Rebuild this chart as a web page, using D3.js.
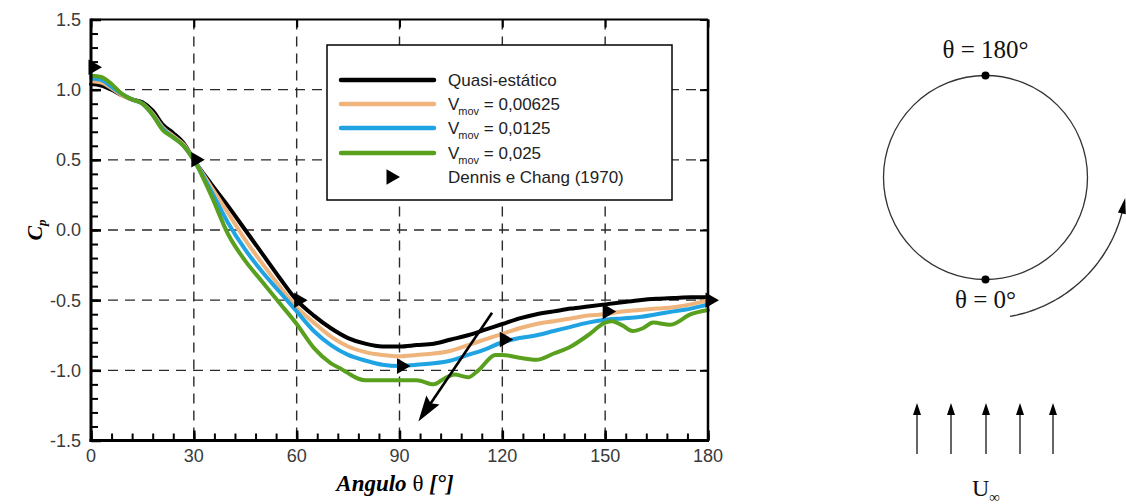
<!DOCTYPE html>
<html>
<head>
<meta charset="utf-8">
<script src="https://cdn.jsdelivr.net/npm/d3@7/dist/d3.min.js"></script>
<style>
  body { margin: 0; background: #fff; }
  svg { display: block; }
</style>
</head>
<body>
<svg id="chart" width="1126" height="504"></svg>
<script>
// Pressure coefficient around the cylinder, angle in degrees
const thetaSmooth = [0, 3, 6, 9, 12, 15, 18, 21, 24, 27, 30, 35, 40, 45, 50, 55, 60, 65, 70, 75, 80, 85, 90, 95, 100, 105, 110, 115, 120, 125, 130, 135, 140, 145, 150, 155, 160, 165, 170, 175, 180];
const cpQuasi  = [1.04, 1.03, 1.00, 0.96, 0.93, 0.91, 0.85, 0.75, 0.69, 0.62, 0.50, 0.33, 0.17, 0.00, -0.17, -0.34, -0.50, -0.61, -0.70, -0.77, -0.81, -0.83, -0.83, -0.82, -0.81, -0.78, -0.75, -0.71, -0.67, -0.63, -0.60, -0.58, -0.56, -0.545, -0.53, -0.515, -0.50, -0.49, -0.485, -0.48, -0.48];
const cpV00625 = [1.06, 1.05, 1.01, 0.96, 0.93, 0.90, 0.83, 0.73, 0.67, 0.61, 0.50, 0.31, 0.12, -0.07, -0.24, -0.40, -0.55, -0.66, -0.76, -0.83, -0.87, -0.89, -0.90, -0.89, -0.88, -0.86, -0.82, -0.78, -0.74, -0.70, -0.67, -0.65, -0.63, -0.61, -0.60, -0.58, -0.57, -0.56, -0.55, -0.53, -0.50];
const cpV0125  = [1.08, 1.07, 1.02, 0.97, 0.93, 0.90, 0.82, 0.72, 0.66, 0.60, 0.50, 0.28, 0.05, -0.14, -0.30, -0.44, -0.58, -0.72, -0.82, -0.89, -0.93, -0.96, -0.97, -0.96, -0.95, -0.93, -0.89, -0.85, -0.80, -0.77, -0.75, -0.72, -0.69, -0.66, -0.64, -0.63, -0.62, -0.60, -0.58, -0.56, -0.53];
const thetaV025 = [0, 3, 6, 9, 12, 15, 18, 21, 24, 27, 30, 35, 40, 45, 50, 55, 60, 65, 70, 73, 75, 78, 80, 85, 90, 95, 100, 103, 106, 110, 113, 118, 120, 125, 130, 135, 140, 145, 150, 152, 155, 158, 161, 164, 169, 175, 180];
const cpV025    = [1.10, 1.09, 1.04, 0.97, 0.93, 0.90, 0.82, 0.71, 0.66, 0.60, 0.50, 0.25, -0.03, -0.22, -0.37, -0.52, -0.67, -0.84, -0.95, -0.99, -1.02, -1.06, -1.07, -1.07, -1.07, -1.07, -1.10, -1.06, -1.03, -1.05, -1.00, -0.89, -0.89, -0.91, -0.925, -0.88, -0.83, -0.75, -0.66, -0.65, -0.68, -0.72, -0.70, -0.66, -0.675, -0.60, -0.57];

// Reference solution (Dennis e Chang, 1970)
const thetaDennis = [0, 30, 60, 90, 120, 150, 180];
const cpDennis    = [1.16, 0.50, -0.50, -0.97, -0.78, -0.58, -0.50];

// Axis ticks
const xTicks = [0, 30, 60, 90, 120, 150, 180];
const xMinorTicks = d3.range(0, 181, 6);
const yTicks = [1.5, 1.0, 0.5, 0.0, -0.5, -1.0, -1.5];
const yMinorTicks = d3.range(-15, 16, 1).map(v => v / 10);

// Trend arrow (increasing V_mov), in data units
const trendFrom = [117, -0.59];
const trendTo   = [95.5, -1.365];

const series = [
  { name: "Quasi-estático", sub: null, theta: thetaSmooth, cp: cpQuasi,  color: "#000000" },
  { name: "V", sub: "mov", rest: " = 0,00625", theta: thetaSmooth, cp: cpV00625, color: "#EEB47C" },
  { name: "V", sub: "mov", rest: " = 0,0125",  theta: thetaSmooth, cp: cpV0125,  color: "#1FA3E3" },
  { name: "V", sub: "mov", rest: " = 0,025",   theta: thetaV025,   cp: cpV025,   color: "#58A01E" }
];

const svg = d3.select("#chart");
const plotL = 91, plotR = 708, plotT = 19.5, plotB = 440.5;
const x = d3.scaleLinear().domain([0, 180]).range([plotL, plotR]);
const y = d3.scaleLinear().domain([-1.5, 1.5]).range([plotB, plotT]);

const sans = "Liberation Sans, Arial, sans-serif";
const serif = "Liberation Serif, Times New Roman, serif";

// Dashed grid
const grid = svg.append("g").attr("stroke", "#2a2a2a").attr("stroke-width", 1.4).attr("stroke-dasharray", "10,7");
grid.selectAll("line.gx").data(xTicks.slice(1, -1)).join("line").attr("class", "gx")
  .attr("x1", d => x(d)).attr("x2", d => x(d)).attr("y1", plotT).attr("y2", plotB);
grid.selectAll("line.gy").data(yTicks.slice(1, -1)).join("line").attr("class", "gy")
  .attr("y1", d => y(d)).attr("y2", d => y(d)).attr("x1", plotL).attr("x2", plotR);

// Axes: ticks drawn inward
const axLeft = d3.axisRight(y).tickValues(yMinorTicks).tickSize(7).tickFormat("");
const axLeftMaj = d3.axisRight(y).tickValues(yTicks).tickSize(10).tickFormat("");
const axBottom = d3.axisTop(x).tickValues(xMinorTicks).tickSize(7).tickFormat("");
const axBottomMaj = d3.axisTop(x).tickValues(xTicks).tickSize(10).tickFormat("");
const axTop = d3.axisBottom(x).tickValues(xTicks).tickSize(8).tickFormat("");
const axRight = d3.axisLeft(y).tickValues(yTicks).tickSize(8).tickFormat("");

function styleAxis(g, w) {
  g.select(".domain").remove();
  g.selectAll(".tick line").attr("stroke", "#000").attr("stroke-width", w);
}
svg.append("g").attr("transform", `translate(${plotL},0)`).call(axLeft).call(g => styleAxis(g, 2));
svg.append("g").attr("transform", `translate(${plotL},0)`).call(axLeftMaj).call(g => styleAxis(g, 2.5));
svg.append("g").attr("transform", `translate(0,${plotB})`).call(axBottom).call(g => styleAxis(g, 2));
svg.append("g").attr("transform", `translate(0,${plotB})`).call(axBottomMaj).call(g => styleAxis(g, 2.5));
svg.append("g").attr("transform", `translate(0,${plotT})`).call(axTop).call(g => styleAxis(g, 2));
svg.append("g").attr("transform", `translate(${plotR},0)`).call(axRight).call(g => styleAxis(g, 2));

// Tick labels
svg.append("g").selectAll("text").data(yTicks).join("text")
  .attr("x", plotL - 10).attr("y", d => y(d)).attr("dy", "0.36em")
  .attr("text-anchor", "end").attr("font-family", sans).attr("font-size", 18).attr("fill", "#3a3a3a")
  .text(d => d3.format(".1f")(d).replace("−", "-"));
svg.append("g").selectAll("text").data(xTicks).join("text")
  .attr("x", d => x(d)).attr("y", plotB + 21)
  .attr("text-anchor", "middle").attr("font-family", sans).attr("font-size", 18).attr("fill", "#3a3a3a")
  .text(d => d);

// Curves
const line = d3.line().curve(d3.curveMonotoneX);
const curves = svg.append("g").attr("fill", "none").attr("stroke-linejoin", "round").attr("stroke-linecap", "round");
series.forEach(s => {
  curves.append("path")
    .attr("d", line(s.theta.map((t, i) => [x(t), y(s.cp[i])])))
    .attr("stroke", s.color).attr("stroke-width", 4);
});

// Reference markers (right-pointing triangles)
const tri = d3.symbol().type(d3.symbolTriangle).size(105);
svg.append("g").selectAll("path").data(thetaDennis).join("path")
  .attr("d", tri)
  .attr("transform", (d, i) => `translate(${x(d) + 2},${y(cpDennis[i])}) rotate(90)`)
  .attr("fill", "#000");

// Frame lines
svg.append("line").attr("x1", plotL).attr("x2", plotR).attr("y1", plotT).attr("y2", plotT).attr("stroke", "#000").attr("stroke-width", 2);
svg.append("line").attr("x1", plotR).attr("x2", plotR).attr("y1", plotT).attr("y2", plotB).attr("stroke", "#000").attr("stroke-width", 2.5);
svg.append("line").attr("x1", plotL).attr("x2", plotL).attr("y1", plotT - 1).attr("y2", plotB + 1.5).attr("stroke", "#000").attr("stroke-width", 3);
svg.append("line").attr("x1", plotL - 1.5).attr("x2", plotR + 1).attr("y1", plotB).attr("y2", plotB).attr("stroke", "#000").attr("stroke-width", 3);

// Trend arrow
{
  const x0 = x(trendFrom[0]), y0 = y(trendFrom[1]), x1 = x(trendTo[0]), y1 = y(trendTo[1]);
  const ang = Math.atan2(y1 - y0, x1 - x0);
  const hl = 26, hw = 8;
  const bx = x1 - hl * Math.cos(ang), by = y1 - hl * Math.sin(ang);
  svg.append("line").attr("x1", x0).attr("y1", y0).attr("x2", bx + 6 * Math.cos(ang)).attr("y2", by + 6 * Math.sin(ang))
    .attr("stroke", "#000").attr("stroke-width", 2.6);
  const px = -Math.sin(ang) * hw, py = Math.cos(ang) * hw;
  svg.append("path")
    .attr("d", `M${x1},${y1}L${bx + px},${by + py}L${bx + hl * 0.15 * Math.cos(ang)},${by + hl * 0.15 * Math.sin(ang)}L${bx - px},${by - py}Z`)
    .attr("fill", "#000");
}

// Legend
const lg = svg.append("g");
lg.append("rect").attr("x", 327).attr("y", 45).attr("width", 345).attr("height", 155)
  .attr("fill", "#fff").attr("stroke", "#000").attr("stroke-width", 1.5);
const rowY = [80, 104, 128, 153, 177];
series.forEach((s, i) => {
  lg.append("line").attr("x1", 341).attr("x2", 434).attr("y1", rowY[i]).attr("y2", rowY[i])
    .attr("stroke", s.color).attr("stroke-width", 4.5).attr("stroke-linecap", "round");
  const t = lg.append("text").attr("x", 448).attr("y", rowY[i] + 6)
    .attr("font-family", sans).attr("font-size", 17).attr("fill", "#222");
  if (s.sub) {
    t.append("tspan").text(s.name);
    t.append("tspan").attr("font-size", 11).attr("dy", 5).attr("dx", -1).text(s.sub);
    t.append("tspan").attr("dy", -5).text(s.rest);
  } else {
    t.text(s.name);
  }
});
lg.append("path").attr("d", tri).attr("transform", `translate(391,${rowY[4]}) rotate(90)`).attr("fill", "#000");
lg.append("text").attr("x", 448).attr("y", rowY[4] + 6)
  .attr("font-family", sans).attr("font-size", 17).attr("fill", "#222").text("Dennis e Chang (1970)");

// Axis titles
const xt = svg.append("text").attr("x", 395).attr("y", 491).attr("text-anchor", "middle")
  .attr("font-family", serif).attr("font-size", 23).attr("font-weight", "bold").attr("font-style", "italic");
xt.append("tspan").text("Angulo ");
xt.append("tspan").attr("font-weight", "normal").attr("font-style", "normal").text("θ");
xt.append("tspan").text(" [°]");

const yt = svg.append("text").attr("transform", "translate(42,230) rotate(-90)").attr("text-anchor", "middle")
  .attr("font-family", serif).attr("font-size", 22).attr("font-weight", "bold").attr("font-style", "italic");
yt.append("tspan").text("C");
yt.append("tspan").attr("font-size", 13).attr("dy", 4).text("p");

// Cylinder sketch
const cx = 985.5, cy = 177.5, r = 102;
const sk = svg.append("g");
sk.append("circle").attr("cx", cx).attr("cy", cy).attr("r", r).attr("fill", "none").attr("stroke", "#333").attr("stroke-width", 1.3);
sk.append("circle").attr("cx", cx).attr("cy", cy - r).attr("r", 4).attr("fill", "#000");
sk.append("circle").attr("cx", cx).attr("cy", cy + r).attr("r", 4).attr("fill", "#000");
sk.append("text").attr("x", cx).attr("y", 58).attr("text-anchor", "middle")
  .attr("font-family", serif).attr("font-size", 25).attr("fill", "#111").text("θ = 180°");
sk.append("text").attr("x", cx).attr("y", 308).attr("text-anchor", "middle")
  .attr("font-family", serif).attr("font-size", 25).attr("fill", "#111").text("θ = 0°");

// Rotation direction arc
{
  const R = 141;
  const a0 = 80 * Math.PI / 180, a1 = 13 * Math.PI / 180;
  const arcPts = d3.range(0, 1.0001, 0.02).map(t => {
    const a = a0 + (a1 - a0) * t;
    return [cx + R * Math.cos(a), cy + R * Math.sin(a)];
  });
  sk.append("path").attr("d", d3.line()(arcPts)).attr("fill", "none").attr("stroke", "#333").attr("stroke-width", 1.4);
  const tipA = 10 * Math.PI / 180;
  const tip = [cx + R * Math.cos(tipA), cy + R * Math.sin(tipA)];
  const base = [cx + R * Math.cos(a1 + 0.03), cy + R * Math.sin(a1 + 0.03)];
  const dx = tip[0] - base[0], dy = tip[1] - base[1];
  const L = Math.hypot(dx, dy), nx = -dy / L * 4, ny = dx / L * 4;
  sk.append("path").attr("d", `M${tip[0] + dx / L * 4},${tip[1] + dy / L * 4}L${base[0] + nx},${base[1] + ny}L${base[0] - nx},${base[1] - ny}Z`).attr("fill", "#000");
}

// Free-stream arrows
const flowX = [917, 951, 986, 1020, 1053];
flowX.forEach(fx => {
  sk.append("line").attr("x1", fx).attr("x2", fx).attr("y1", 454).attr("y2", 412).attr("stroke", "#333").attr("stroke-width", 1.5);
  sk.append("path").attr("d", `M${fx},${403}L${fx - 4},${415}L${fx + 4},${415}Z`).attr("fill", "#000");
});
const ut = sk.append("text").attr("x", 986).attr("y", 496).attr("text-anchor", "middle")
  .attr("font-family", serif).attr("font-size", 24).attr("fill", "#111");
ut.append("tspan").text("U");
ut.append("tspan").attr("font-size", 15).attr("dy", 6).text("∞");
</script>
</body>
</html>
